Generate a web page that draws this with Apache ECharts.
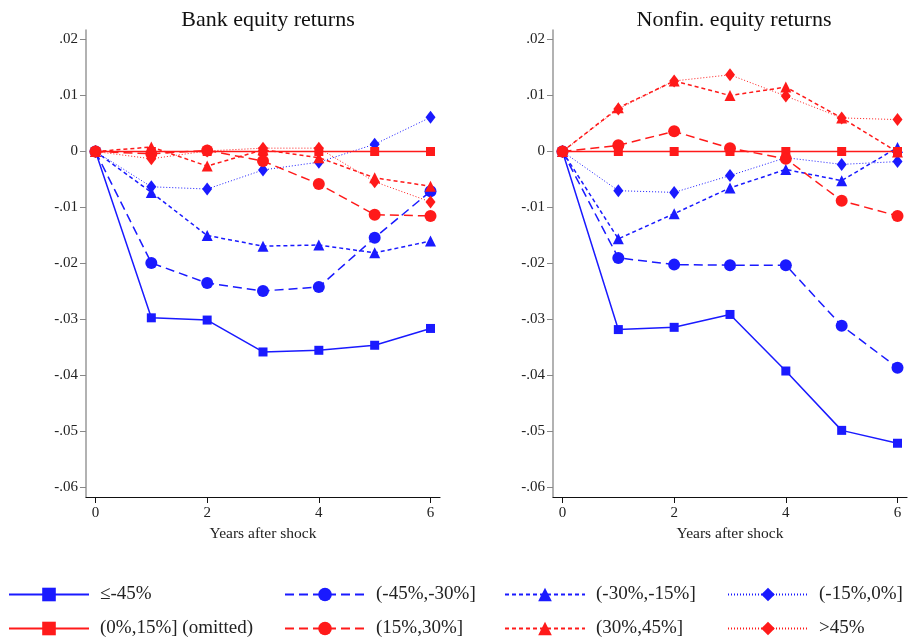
<!DOCTYPE html>
<html><head><meta charset="utf-8">
<script src="https://cdn.jsdelivr.net/npm/echarts@6/dist/echarts.min.js"></script>
<style>html,body{margin:0;padding:0;background:#fff}#c{width:909px;height:643px}</style>
</head><body><div id="c"></div>
<script>
const years = [0, 1, 2, 3, 4, 5, 6];
const seriesNames = ['≤-45%', '(-45%,-30%]', '(-30%,-15%]', '(-15%,0%]', '(0%,15%] (omitted)', '(15%,30%]', '(30%,45%]', '>45%'];
const xTicks = [0, 2, 4, 6];
const yTicks = [-0.06, -0.05, -0.04, -0.03, -0.02, -0.01, 0, 0.01, 0.02];

// Bank equity returns
const bankLe45   = [0, -0.0297, -0.0301, -0.0358, -0.0355, -0.0346, -0.0316];
const bank45_30  = [0, -0.0199, -0.0235, -0.0249, -0.0242, -0.0154, -0.0071];
const bank30_15  = [0, -0.0073, -0.0150, -0.0169, -0.0167, -0.0181, -0.0160];
const bank15_0   = [0, -0.0063, -0.0067, -0.0033, -0.0019, 0.0013, 0.0061];
const bank0_15   = [0, 0, 0, 0, 0, 0, 0];
const bank15_30  = [0, -0.0004, 0.0002, -0.0017, -0.0058, -0.0113, -0.0115];
const bank30_45  = [0, 0.0008, -0.0026, 0.0003, -0.0011, -0.0047, -0.0062];
const bankGt45   = [0, -0.0013, 0.0001, 0.0006, 0.0006, -0.0054, -0.0090];

// Nonfin. equity returns
const nfLe45   = [0, -0.0318, -0.0314, -0.0291, -0.0392, -0.0498, -0.0521];
const nf45_30  = [0, -0.0190, -0.0202, -0.0203, -0.0203, -0.0311, -0.0386];
const nf30_15  = [0, -0.0156, -0.0111, -0.0065, -0.0032, -0.0052, 0.0007];
const nf15_0   = [0, -0.0070, -0.0073, -0.0043, -0.0011, -0.0023, -0.0018];
const nf0_15   = [0, 0, 0, 0, 0, 0, 0];
const nf15_30  = [0, 0.0011, 0.0036, 0.0006, -0.0013, -0.0088, -0.0115];
const nf30_45  = [0, 0.0078, 0.0126, 0.0100, 0.0115, 0.0060, -0.0001];
const nfGt45   = [0, 0.0076, 0.0126, 0.0137, 0.0099, 0.0060, 0.0057];

const bankData = [bankLe45, bank45_30, bank30_15, bank15_0, bank0_15, bank15_30, bank30_45, bankGt45];
const nfData = [nfLe45, nf45_30, nf30_15, nf15_0, nf0_15, nf15_30, nf30_45, nfGt45];

const BLUE = '#1a1aff', RED = '#ff1a1a';
const styles = [
  {color: BLUE, dash: 'solid', w: 1.5, sym: 'rect', size: 9},
  {color: BLUE, dash: [9, 5], w: 1.5, sym: 'circle', size: 12},
  {color: BLUE, dash: [4, 3], w: 1.5, sym: 'triangle', size: 11},
  {color: BLUE, dash: [1, 2], w: 1, sym: 'diamond', size: [10, 13]},
  {color: RED, dash: 'solid', w: 1.5, sym: 'rect', size: 9},
  {color: RED, dash: [9, 5], w: 1.5, sym: 'circle', size: 12},
  {color: RED, dash: [4, 3], w: 1.5, sym: 'triangle', size: 11},
  {color: RED, dash: [1, 2], w: 1, sym: 'diamond', size: [10, 13]}
];

const FONT = 'Liberation Serif';
function fmt(v) {
  if (Math.abs(v) < 1e-9) return '0';
  const n = Math.round(Math.abs(v) * 100);
  return (v < 0 ? '-' : '') + '.' + String(n).padStart(2, '0');
}

function mkX(gi) {
  return {
    type: 'value', gridIndex: gi, min: -0.17, max: 6.17,
    name: 'Years after shock', nameLocation: 'middle', nameGap: 28,
    nameTextStyle: {fontFamily: FONT, fontSize: 15.5, color: '#222'},
    axisLine: {onZero: false, lineStyle: {color: '#111', width: 1.2}},
    axisTick: {customValues: xTicks, length: 6, lineStyle: {color: '#111'}},
    axisLabel: {customValues: xTicks, fontFamily: FONT, fontSize: 15, color: '#222', margin: 9},
    splitLine: {show: false}
  };
}
function mkY(gi) {
  return {
    type: 'value', gridIndex: gi, min: -0.0617, max: 0.0217,
    axisLine: {show: true, onZero: false, lineStyle: {color: '#999', width: 1.5}},
    axisTick: {show: true, customValues: yTicks, length: 6, lineStyle: {color: '#888'}},
    axisLabel: {customValues: yTicks, formatter: fmt, fontFamily: FONT, fontSize: 15, color: '#222', margin: 8},
    splitLine: {show: false}
  };
}

const series = [];
[bankData, nfData].forEach((ds, gi) => {
  ds.forEach((vals, i) => {
    const s = styles[i];
    series.push({
      name: seriesNames[i], type: 'line', xAxisIndex: gi, yAxisIndex: gi,
      data: years.map((y, k) => [y, vals[k]]),
      symbol: s.sym, symbolSize: s.size, showSymbol: true,
      lineStyle: {color: s.color, width: s.w, type: s.dash},
      itemStyle: {color: s.color},
      z: 2 + i, animation: false
    });
  });
});

const legendLeft = [8, 284, 504, 727];
const legendTop = [585, 619];
const legends = seriesNames.map((n, i) => ({
  data: [n], left: legendLeft[i % 4], top: legendTop[Math.floor(i / 4)], orient: 'horizontal',
  padding: 0, itemWidth: 80, itemHeight: 17, itemGap: 0, selectedMode: false,
  textStyle: {fontFamily: FONT, fontSize: 19, color: '#222', padding: [0, 0, 0, 6]}
}));

const chart = echarts.init(document.getElementById('c'), null, {renderer: 'canvas'});
chart.setOption({
  backgroundColor: '#fff',
  animation: false,
  title: [
    {text: 'Bank equity returns', left: 263, top: 4, textAlign: 'center',
     textStyle: {fontFamily: FONT, fontSize: 22, fontWeight: 'normal', color: '#111'}},
    {text: 'Nonfin. equity returns', left: 729, top: 4, textAlign: 'center',
     textStyle: {fontFamily: FONT, fontSize: 22, fontWeight: 'normal', color: '#111'}}
  ],
  legend: legends,
  grid: [
    {left: 86, top: 30, width: 354, height: 467},
    {left: 553, top: 30, width: 354, height: 467}
  ],
  xAxis: [mkX(0), mkX(1)],
  yAxis: [mkY(0), mkY(1)],
  series: series
});
</script></body></html>
